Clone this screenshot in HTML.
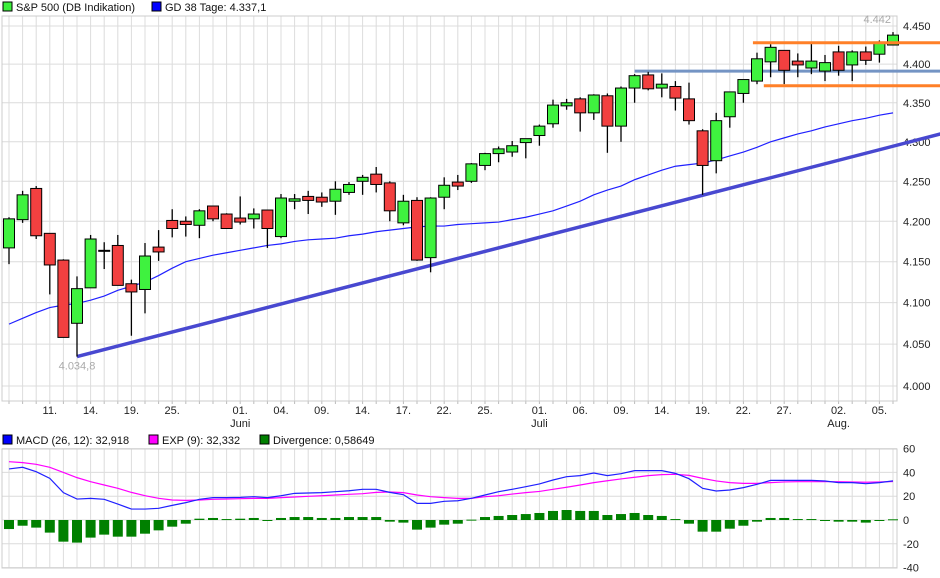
<!DOCTYPE html>
<html><head><meta charset="utf-8"><style>
body{margin:0;background:#fff;font-family:"Liberation Sans",sans-serif;}
svg{display:block}
text{font-family:"Liberation Sans",sans-serif;}
</style></head><body>
<svg id="c" width="940" height="578" viewBox="0 0 940 578">
<g>
<rect x="3" y="2" width="9" height="9" fill="#3cf03c" stroke="#000" stroke-width="1"/>
<text x="16" y="11" font-size="11" fill="#111">S&amp;P 500 (DB Indikation)</text>
<rect x="152" y="2" width="9" height="9" fill="#0000ff" stroke="#000" stroke-width="1"/>
<text x="165" y="11" font-size="11" fill="#111">GD 38 Tage: 4.337,1</text>
</g>
<g>
<rect x="3" y="435" width="9" height="9" fill="#0000ff" stroke="#000"/>
<text x="16" y="444" font-size="11" fill="#111">MACD (26, 12): 32,918</text>
<rect x="149" y="435" width="9" height="9" fill="#ff00ff" stroke="#000"/>
<text x="162" y="444" font-size="11" fill="#111">EXP (9): 32,332</text>
<rect x="260" y="435" width="9" height="9" fill="#008000" stroke="#000"/>
<text x="273" y="444" font-size="11" fill="#111">Divergence: 0,58649</text>
</g>
<g id="grid"></g>
<g id="marks"></g>
</svg>
<script>
const opens=[4167,4202,4241,4185,4152,4075,4118,4164,4170,4123,4116,4168,4201,4200,4195,4219,4209,4204,4203,4214,4181,4225,4231,4230,4225,4236,4250,4259,4248,4198,4226,4155,4230,4249,4250,4270,4285,4287,4299,4308,4323,4346,4355,4337,4359,4320,4369,4386,4369,4371,4355,4314,4276,4332,4362,4378,4403,4418,4404,4395,4391,4416,4399,4416,4413,4425];
const highs=[4205,4238,4244,4185,4153,4132,4183,4174,4183,4128,4173,4189,4215,4206,4215,4219,4210,4231,4216,4214,4234,4234,4238,4236,4250,4249,4258,4268,4250,4233,4230,4230,4255,4258,4273,4286,4294,4301,4304,4322,4354,4355,4357,4361,4362,4371,4387,4390,4388,4378,4376,4316,4337,4364,4380,4415,4426,4418,4414,4429,4412,4424,4418,4423,4431,4442];
const lows=[4147,4198,4178,4110,4058,4035,4118,4141,4121,4060,4087,4151,4180,4181,4179,4200,4191,4196,4191,4167,4179,4215,4209,4218,4208,4233,4233,4236,4200,4195,4151,4137,4215,4239,4248,4264,4274,4281,4279,4295,4318,4341,4313,4328,4286,4300,4350,4366,4357,4340,4322,4233,4260,4318,4350,4374,4383,4374,4383,4387,4378,4385,4378,4399,4402,4425];
const closes=[4203,4233,4182,4146,4058,4117,4178,4164,4121,4113,4157,4162,4191,4196,4213,4203,4191,4199,4209,4191,4229,4228,4226,4224,4240,4246,4255,4246,4213,4225,4152,4229,4245,4244,4272,4285,4291,4295,4304,4320,4347,4350,4337,4360,4320,4369,4385,4368,4374,4356,4327,4270,4327,4364,4380,4407,4422,4392,4399,4404,4402,4392,4416,4405,4429,4438];
const gd38=[4074,4081,4088,4094,4097,4099,4103,4108,4115,4120,4125,4133,4142,4150,4154,4158,4161,4164,4167,4170,4172,4175,4177,4178,4179,4182,4184,4187,4189,4191,4193,4194,4194,4196,4197,4198,4199,4202,4205,4209,4213,4219,4225,4233,4239,4244,4252,4258,4264,4269,4271,4273,4277,4282,4287,4293,4300,4305,4310,4314,4319,4323,4327,4330,4334,4337];
const macd=[42.9,44.3,40.6,35,23,17.6,18.2,17.4,13.4,9.2,9.2,9.8,12.3,14.6,17.4,18.8,18.8,19,19.6,18.8,20.4,22.4,22.7,23,23.8,24.6,25.8,25.8,23.2,21.3,14,14,15.7,16.2,18.2,21,23.8,25.8,28,30.3,33.6,36.4,37.3,39.5,37.3,38.9,41.5,41.5,41.5,39.2,34.7,26.6,24.4,25.2,27.2,30,33.3,33.3,33.3,33.3,32.8,31.4,31.4,30.5,31.4,32.9];
const expv=[49,48.2,46.8,44.3,40,35.6,32.2,29.4,26.6,23.2,20.4,18.2,16.8,16.5,16.8,17.4,17.6,17.9,18.2,18.2,18.8,19.3,19.9,20.4,21,21.6,22.1,23.2,23.5,23,21,19.6,18.8,18.2,18.2,19.6,20.4,21.8,23,24,25.8,27.5,29.4,31.4,33,34.5,35.9,37.3,38.1,38.4,37.5,35,32.8,31.4,30.8,30.8,31.4,32,32.2,32.2,32.2,32.2,32,31.7,32,32.3];
const divergence=[-7.6,-4.8,-6.4,-10.6,-18.2,-19,-14.8,-12.3,-14,-14,-11.5,-8.7,-5.6,-3.1,1.1,1.7,0.8,1.1,1.7,-0.3,1.7,2.5,2.5,1.7,1.7,2.5,2.5,2.5,-1.4,-2.2,-8.1,-6.4,-3.9,-3.1,0.3,2.5,3.4,4.2,5,5.9,7.6,8.4,7.6,7.6,4.2,5,5.9,4.2,3.4,0.8,-3.1,-9.8,-9.8,-7.3,-4.8,-1.4,1.7,1.7,0.8,0.8,-0.3,-1.4,-1.4,-2.2,-0.8,0.6];
const priceTicks=[4000,4050,4100,4150,4200,4250,4300,4350,4400,4450];
const priceTickLabels=["4.000","4.050","4.100","4.150","4.200","4.250","4.300","4.350","4.400","4.450"];
const macdTicks=[60,40,20,0,-20,-40];
const dayLabels=[[3,"11."],[6,"14."],[9,"19."],[12,"25."],[17,"01."],[20,"04."],[23,"09."],[26,"14."],[29,"17."],[32,"22."],[35,"25."],[39,"01."],[42,"06."],[45,"09."],[48,"14."],[51,"19."],[54,"22."],[57,"27."],[61,"02."],[64,"05."]];
const monthLabels=[[17,"Juni"],[39,"Juli"],[61,"Aug."]];
const trendline=[[5,4035],[68.5,4310]];
const resistance=[54.7,4428];
const support=[55.5,4372];
const midLevel=[46,4391];
const hiLabel="4.442", loLabel="4.034,8";

const NS="http://www.w3.org/2000/svg";
const P={l:2,r:897,t:16,b:401};
const M={t:449,b:568};
const x=i=>9+i*13.6;
const y=v=>26+3377*Math.log(4450/v);
const ym=v=>520-v*1.19;
function mk(tag,parent,attrs){const e=document.createElementNS(NS,tag);for(const k in attrs)e.setAttribute(k,attrs[k]);parent.appendChild(e);return e;}
const G=document.getElementById('grid'),Mk=document.getElementById('marks');
// grids
for(let i=0;i<66;i++){
 let l=mk('line',G,{x1:x(i),x2:x(i),y1:P.t,y2:P.b,stroke:'#dcdcdc'});
 
 
 let t=mk('line',G,{x1:x(i),x2:x(i),y1:P.b,y2:P.b+3,stroke:'#bbb'});
 
 
 let l2=mk('line',G,{x1:x(i),x2:x(i),y1:M.t,y2:M.b,stroke:'#dcdcdc'});
 
 
}
priceTicks.forEach((v,k)=>{
 let l=mk('line',G,{x1:P.l,x2:P.r,y1:y(v),y2:y(v),stroke:'#dcdcdc'});
 
 
 let t=mk('text',G,{x:903,y:y(v)+4,'font-size':11,fill:'#222'});t.textContent=priceTickLabels[k];
 
 
});
macdTicks.forEach(v=>{
 let l=mk('line',G,{x1:P.l,x2:P.r,y1:ym(v),y2:ym(v),stroke:'#dcdcdc'});
 
 
 let t=mk('text',G,{x:903,y:ym(v)+4,'font-size':11,fill:'#222'});t.textContent=String(v);
 
 
});
let fr=mk('rect',G,{x:P.l,y:P.t,width:P.r-P.l,height:P.b-P.t,fill:'none',stroke:'#ccc'});


let fr2=mk('rect',G,{x:P.l,y:M.t,width:P.r-P.l,height:M.b-M.t,fill:'none',stroke:'#ccc'});


dayLabels.forEach(([i,s])=>{
 let t=mk('text',G,{x:x(i),y:414,'font-size':11,fill:'#222','text-anchor':'middle'});t.textContent=s;
 
 
});
monthLabels.forEach(([i,s])=>{
 let t=mk('text',G,{x:x(i),y:427,'font-size':11,fill:'#222','text-anchor':'middle'});t.textContent=s;
 
 
});
// GD38
let ma=mk('polyline',Mk,{points:gd38.map((v,i)=>x(i)+','+y(v)).join(' '),fill:'none',stroke:'#2020ff','stroke-width':1.2});


// trend line
let tl=mk('line',Mk,{x1:x(trendline[0][0]),y1:y(trendline[0][1]),x2:x(trendline[1][0]),y2:y(trendline[1][1]),stroke:'#4848d0','stroke-width':3.5});


// levels
let lv1=mk('line',Mk,{x1:x(midLevel[0]),x2:940,y1:y(midLevel[1]),y2:y(midLevel[1]),stroke:'#7494c4','stroke-width':3});


// candles
for(let i=0;i<opens.length;i++){
 const up=closes[i]>=opens[i];
 let w=mk('line',Mk,{x1:x(i),x2:x(i),y1:y(highs[i]),y2:y(lows[i]),stroke:'#000','stroke-width':1.3});
 
 
 const top=y(Math.max(opens[i],closes[i])),bot=y(Math.min(opens[i],closes[i]));
 let b=mk('rect',Mk,{x:x(i)-5.5,y:top,width:11,height:Math.max(1,bot-top),fill:up?'#3ff23f':'#f24040',stroke:'#000','stroke-width':1});
 
 
}
let lv2=mk('line',Mk,{x1:x(resistance[0]),x2:940,y1:y(resistance[1]),y2:y(resistance[1]),stroke:'#ff8028','stroke-width':3});


let lv3=mk('line',Mk,{x1:x(support[0]),x2:940,y1:y(support[1]),y2:y(support[1]),stroke:'#ff8028','stroke-width':3});


let hl=mk('text',Mk,{x:x(65)-2,y:y(4442)-9,'font-size':11,fill:'#aaa','text-anchor':'end'});hl.textContent=hiLabel;


let ll=mk('text',Mk,{x:x(5),y:y(4035)+13,'font-size':11,fill:'#aaa','text-anchor':'middle'});ll.textContent=loLabel;


// MACD
divergence.forEach((v,i)=>{
 const a=ym(Math.max(v,0)),b=ym(Math.min(v,0));
 let r=mk('rect',Mk,{x:x(i)-5,y:a,width:10,height:Math.max(1,b-a),fill:'#008000'});
 
 
});
let ep=mk('polyline',Mk,{points:expv.map((v,i)=>x(i)+','+ym(v)).join(' '),fill:'none',stroke:'#ff00ff','stroke-width':1.2});


let mp=mk('polyline',Mk,{points:macd.map((v,i)=>x(i)+','+ym(v)).join(' '),fill:'none',stroke:'#2020ff','stroke-width':1.2});


</script>
</body></html>
